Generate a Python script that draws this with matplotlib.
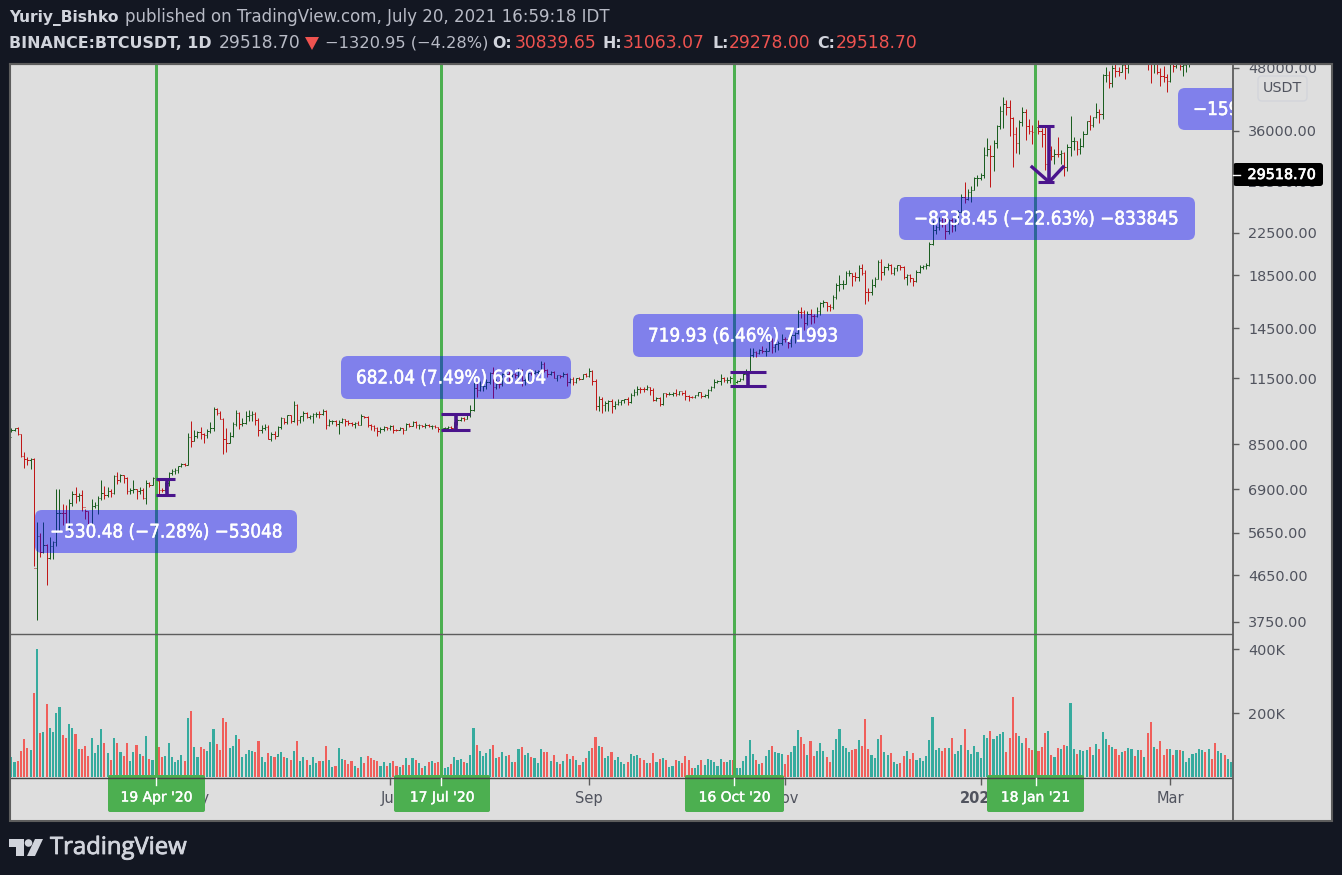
import matplotlib
matplotlib.use('Agg')
import matplotlib.pyplot as plt
import matplotlib.dates as mdates
import matplotlib.patheffects as pe
import pandas as pd
from matplotlib.patches import FancyBboxPatch, Rectangle, Polygon, Circle
from matplotlib.ticker import NullLocator

# daily bars, 5 Mar 2020 .. 20 Mar 2021, prices in USDT
first_day = '2020-03-05'
first_open = 8790

closes = [
    9069, 9158, 8908, 8037, 7931, 7895, 7934, 4800, 5578, 5169, 5343, 5033, 5325, 5414, 6181, 6198, 6186, 5816, 6469, 6744, 6681, 6737, 6359, 6236, 5881, 6394, 6410,
    6642, 6794, 6738, 6862, 6772, 7340, 7197, 7361, 7283, 6858, 6876, 6903, 6837, 6869, 6622, 7100, 7047, 7257, 7187, 6881, 6880, 7117, 7427, 7500, 7538, 7693, 7774, 7738, 8778, 8620,
    8826, 8973, 8894, 8872, 9032, 9149, 9986, 9800, 9539, 8722, 8561, 8810, 9309, 9791, 9316, 9381, 9680, 9733, 9775, 9511, 9067, 9170, 9179, 8720, 8900, 8842, 9204, 9575, 9427, 9697, 9448,
    10200, 9518, 9666, 9789, 9621, 9666, 9746, 9782, 9772, 9885, 9280, 9465, 9474, 9342, 9426, 9526, 9465, 9386, 9310, 9358, 9294, 9685, 9624, 9296, 9249, 9162, 9012, 9116, 9192, 9138,
    9232, 9086, 9058, 9135, 9070, 9345, 9253, 9428, 9277, 9278, 9240, 9276, 9239, 9255, 9197, 9133, 9154, 9170, 9208, 9160, 9390, 9518, 9603, 9537, 9700, 9931, 11029, 10906, 11100, 11100, 11335,
    11801, 11071, 11219, 11191, 11744, 11762, 11594, 11754, 11675, 11878, 11410, 11584, 11780, 11768, 11865, 11892, 12281, 11945, 11754, 11853, 11531, 11662, 11649, 11750, 11318, 11461, 11330, 11526, 11465, 11711, 11649,
    11921, 11388, 10140, 10446, 10166, 10256, 10373, 10126, 10222, 10340, 10392, 10442, 10323, 10680, 10786, 10954, 10939, 10933, 11080, 10920, 10417, 10529, 10241, 10736, 10686, 10728, 10775, 10709, 10844, 10776,
    10619, 10570, 10542, 10666, 10792, 10599, 10666, 10925, 11050, 11296, 11369, 11528, 11426, 11430, 11505, 11322, 11358, 11483, 11742, 11916, 12823, 12965, 12931, 13108, 13031, 13068, 13636, 13266, 13455, 13560, 13791,
    13761, 13549, 14023, 14144, 15590, 15579, 14818, 15475, 15328, 15297, 15701, 16276, 16317, 16069, 15957, 16713, 17659, 17776, 17802, 18655, 18703, 18414, 18368, 19160, 18719, 17154, 17133, 17719, 18185, 19696,
    18764, 19204, 19421, 18650, 19147, 19358, 19166, 18324, 18541, 18254, 18036, 18808, 19175, 19273, 19426, 21335, 22797, 23107, 23821, 23455, 22719, 23810, 23232, 23729, 24712, 26493, 26281, 27079, 27385, 28875, 28923,
    29331, 32178, 33000, 31988, 33949, 36769, 39432, 40582, 40088, 38150, 35404, 34051, 37371, 39145, 36742, 35994, 35828, 36631, 35891, 35468, 30850, 32945, 32078, 32259, 32254, 32467, 30366, 33364, 34252, 34262, 33092,
    33526, 35466, 37618, 36936, 38290, 39186, 38795, 46374, 46420, 44807, 47969, 47287, 47153, 48577, 47911, 49133, 52119, 51552, 55906, 55841, 57408, 54087, 48891, 49676, 47073, 46276, 46106, 45135,
    49587, 48440, 50349, 48374, 48751, 48882, 50971, 52375, 54884, 55851, 57773, 57221, 61188, 59000, 55600, 56900, 58900, 57600, 58100, 58100,
]
highs = [
    9170, 9170, 9190, 8900, 8180, 8000, 7980, 7980, 5950, 5640, 5940, 5370, 5550, 5440, 6900, 6900, 6450, 6410, 6600, 6840, 6980, 6800, 6880, 6300, 6260, 6600, 6520,
    6680, 7200, 7000, 6990, 6900, 7360, 7460, 7420, 7380, 7290, 6950, 7190, 6925, 6990, 6940, 7190, 7150, 7300, 7260, 7240, 6940, 7140, 7470, 7580, 7620, 7700, 7800, 7780, 8950, 9450,
    9060, 9010, 9190, 8950, 9100, 9390, 10070, 10050, 9920, 9570, 9170, 8980, 9400, 9940, 9840, 9590, 9890, 9950, 9900, 9840, 9570, 9270, 9310, 9300, 8980, 9020, 9220, 9620, 9600, 9740, 9700,
    10380, 10230, 9690, 9880, 9860, 9730, 9800, 9850, 9880, 9990, 9950, 9560, 9490, 9490, 9500, 9590, 9540, 9490, 9400, 9400, 9440, 9780, 9690, 9670, 9340, 9290, 9180, 9190, 9240, 9200,
    9290, 9270, 9130, 9190, 9150, 9370, 9380, 9470, 9450, 9320, 9300, 9350, 9340, 9280, 9280, 9210, 9190, 9190, 9240, 9220, 9430, 9540, 9650, 9640, 9730, 10200, 11390, 11270, 11340, 11170, 11450,
    11860, 12120, 11480, 11420, 11790, 11900, 11920, 11810, 11810, 12070, 12000, 11620, 11800, 12000, 11980, 11930, 12470, 12400, 12030, 11880, 11880, 11690, 11710, 11830, 11770, 11530, 11590, 11540, 11580, 11720, 11800,
    12050, 11950, 11450, 10630, 10570, 10350, 10410, 10440, 10350, 10480, 10400, 10480, 10580, 10760, 10940, 11100, 11040, 11040, 11180, 11050, 10990, 10570, 10550, 10770, 10760, 10780, 10800, 10950, 10860, 10800,
    10920, 10670, 10590, 10680, 10800, 10800, 10690, 10960, 11100, 11490, 11430, 11730, 11550, 11560, 11630, 11540, 11410, 11500, 11820, 12030, 13220, 13200, 13030, 13170, 13350, 13250, 13790, 13860, 13650, 13680, 14100,
    13890, 13830, 14070, 14260, 15750, 15970, 15770, 15650, 15830, 15480, 15960, 16350, 16490, 16320, 16180, 16880, 17860, 18480, 18130, 18820, 18970, 18700, 18770, 19420, 19480, 18930, 17460, 18180, 18350, 19860,
    19920, 19310, 19560, 19500, 19180, 19420, 19420, 19300, 18630, 18560, 18290, 18950, 19410, 19350, 19570, 21560, 23800, 23290, 24170, 24300, 24100, 24000, 24100, 24000, 25000, 26870, 28420, 27500, 27850, 29020, 29300,
    29600, 33300, 34780, 33600, 34500, 36940, 40370, 41950, 41380, 41350, 38260, 36630, 37850, 40100, 39750, 37950, 36850, 37300, 37850, 36420, 36850, 33830, 33450, 33070, 34880, 32920, 32560, 33780, 38530, 34930, 34330,
    34720, 35980, 37660, 38700, 38310, 40950, 39700, 46790, 48220, 47310, 48680, 48990, 48150, 49700, 49000, 50650, 52640, 52550, 56370, 57500, 58350, 57530, 54200, 51370, 52050, 47980, 48390, 46700,
    49790, 50250, 52640, 51770, 49300, 49200, 51450, 52450, 54900, 57390, 58150, 58060, 61780, 61680, 60630, 56950, 58980, 60100, 59450, 59900,
]
lows = [
    8990, 9010, 8850, 8000, 7630, 7730, 7590, 4860, 3782, 5055, 5150, 4450, 5000, 5000, 5330, 5660, 5860, 5730, 5690, 6380, 6480, 6530, 6250, 6020, 5860, 5860, 6330,
    6150, 6570, 6600, 6650, 6670, 6770, 7080, 7150, 7110, 6750, 6760, 6780, 6600, 6770, 6600, 6460, 6980, 7030, 7060, 6750, 6810, 6850, 7020, 7390, 7420, 7450, 7640, 7670, 7710, 8400,
    8620, 8750, 8710, 8530, 8760, 8930, 9010, 9710, 9520, 8110, 8190, 8530, 8790, 9250, 9130, 9220, 9340, 9470, 9470, 9300, 8810, 8950, 9090, 8700, 8630, 8700, 8810, 9110, 9330, 9340, 9370,
    9420, 9270, 9370, 9450, 9580, 9530, 9370, 9630, 9570, 9700, 9100, 9230, 9340, 9240, 8900, 9370, 9240, 9280, 9220, 9160, 9270, 9280, 9570, 9200, 9070, 9030, 8830, 8950, 9020, 9070,
    9090, 8940, 9030, 9050, 8900, 9050, 9200, 9230, 9150, 9120, 9190, 9150, 9200, 9120, 9160, 9000, 9070, 9110, 9100, 9130, 9150, 9280, 9460, 9470, 9530, 9650, 9920, 10540, 10860, 10830, 10960,
    11220, 10510, 10950, 11000, 11090, 11580, 11350, 11520, 11520, 11530, 11130, 11150, 11270, 11680, 11760, 11690, 11770, 11820, 11560, 11660, 11500, 11380, 11520, 11600, 11120, 11260, 11160, 11280, 11430, 11460, 11600,
    11570, 11170, 9960, 9880, 9820, 9880, 9880, 9820, 10000, 10200, 10190, 10280, 10200, 10260, 10630, 10670, 10740, 10810, 10890, 10670, 10370, 10350, 10130, 10190, 10560, 10640, 10620, 10630, 10640, 10680,
    10430, 10370, 10490, 10530, 10630, 10530, 10540, 10530, 10830, 11030, 11280, 11180, 11300, 11280, 11260, 11200, 11280, 11340, 11410, 11680, 11900, 12700, 12720, 12880, 12900, 12780, 13050, 12900, 12990, 13130, 13420,
    13620, 13200, 13290, 13530, 14090, 15170, 14340, 14700, 14800, 14830, 15270, 15430, 15960, 15710, 15680, 15850, 16540, 17220, 17340, 17760, 18410, 17610, 18000, 18020, 18500, 16190, 16440, 16880, 17520, 18170,
    18120, 18510, 18900, 18570, 18500, 18860, 18900, 18200, 17650, 17910, 17570, 17900, 18710, 19000, 19050, 19290, 21220, 22350, 22750, 23060, 21810, 22350, 22600, 22700, 23430, 24500, 25800, 26100, 25880, 27320, 27850,
    28620, 28960, 32000, 27730, 29900, 33290, 36300, 36500, 38720, 35110, 30420, 32530, 32380, 36700, 34410, 35360, 33850, 34800, 35370, 33400, 30070, 28850, 31390, 30900, 31910, 30840, 29240, 29840, 31990, 32840, 32170,
    32300, 33420, 35360, 36160, 36570, 38220, 37350, 37990, 45000, 43730, 43990, 46130, 46200, 47040, 45570, 47000, 48950, 50900, 50710, 53860, 55480, 47620, 44890, 47000, 46700, 44100, 45000, 43000,
    45000, 47050, 48100, 47500, 46300, 47070, 48300, 49300, 51840, 53000, 53980, 55510, 56080, 58970, 54600, 53270, 54100, 56100, 56300, 57800,
]
# volume in thousands
volumes = [
    63, 47, 50, 81, 119, 90, 84, 262, 400, 137, 140, 228, 153, 140, 200, 218, 131, 122, 165, 153, 134, 87, 87, 97, 66, 122, 75, 100, 150, 106,
    75, 53, 122, 106, 78, 66, 106, 50, 78, 100, 72, 66, 128, 56, 53, 50, 94, 62, 66, 106, 62, 47, 53, 69, 50, 184, 206, 94, 62, 94,
    87, 81, 109, 150, 103, 84, 184, 172, 90, 97, 131, 119, 62, 72, 84, 81, 78, 112, 62, 47, 75, 66, 62, 72, 78, 62, 59, 53, 81, 112,
    50, 62, 53, 37, 62, 44, 50, 50, 97, 53, 31, 34, 90, 56, 53, 41, 50, 34, 28, 62, 44, 66, 59, 53, 50, 34, 47, 34, 44, 50,
    34, 31, 37, 59, 37, 59, 53, 44, 28, 34, 47, 50, 44, 47, 45, 28, 31,
    42, 63, 54, 57, 48, 45, 70, 154, 101, 82, 67, 76, 88, 101, 60, 63, 79, 67, 70, 48, 48, 88, 95, 70, 76, 63, 60, 45, 88, 79,
    79, 51, 70, 48, 42, 51, 73, 57, 67, 54, 38, 48, 60, 82, 91, 126, 98, 95, 60, 67, 79, 54, 63, 48, 42, 48, 73, 67, 70, 60,
    54, 45, 45, 76, 48, 57, 60, 54, 32, 35, 54, 51, 45, 67, 54, 29, 29, 38, 54, 38, 57, 54, 48, 35, 57, 48, 48, 54, 54, 29,
    29, 51, 67, 116, 73, 54, 42, 45, 67, 85, 98, 79, 76, 73, 42, 70, 79, 98, 148, 126, 104, 70, 113, 67, 82, 107, 82, 63, 48,
    84, 119, 150, 97, 90, 78, 84, 87, 115, 97, 181, 87, 69, 59, 119, 131, 78, 69, 75, 47, 40, 44, 66, 81, 56, 75, 53, 59, 50, 66,
    115, 187, 84, 90, 81, 90, 90, 122, 72, 81, 100, 150, 84, 72, 97, 78, 59, 131, 122, 143, 119, 128, 134, 140, 78, 122, 250, 137, 128, 106,
    122, 90, 84, 75, 81, 94, 137, 143, 69, 62, 90, 87, 100, 97, 231, 87, 72, 84, 81, 84, 94, 69, 103, 87, 140, 119, 100, 94, 87, 69,
    78, 81, 90, 87, 66, 84, 84, 62, 137, 172, 94, 87, 112, 69, 87, 87, 69, 84, 84, 81, 47, 59, 72, 75, 87, 84, 78, 87, 56, 106,
    81, 75, 69, 56, 47,
]

price_ticks = [48000, 36000, 28500, 22500, 18500, 14500, 11500, 8500, 6900, 5650, 4650, 3750]
volume_ticks = [200, 400]
volume_labels = ['200K', '400K']
month_ticks = ['2020-05-01', '2020-07-01', '2020-09-01', '2020-11-01', '2021-01-01', '2021-03-01']
month_labels = ['May', 'Jul', 'Sep', 'Nov', '2021', 'Mar']

# vertical markers and their date tags
marker_dates = ['2020-04-19', '2020-07-17', '2020-10-16', '2021-01-18']
marker_labels = ["19 Apr '20", "17 Jul '20", "16 Oct '20", "18 Jan '21"]

# price range tools: left date, right date, middle date, top, bottom
range_left = ['2020-04-19', '2020-07-17', '2020-10-15', '2021-01-19']
range_right = ['2020-04-25', '2020-07-26', '2020-10-26', '2021-01-24']
range_mid = ['2020-04-22 12:00', '2020-07-21 12:00', '2020-10-20 12:00', '2021-01-22 08:00']
range_top = [7242, 9767, 11846, 36750]
range_bottom = [6725, 9072, 11107, 28400]
arrow_dates = ['2021-01-17 00:00', '2021-01-22 08:00', '2021-01-26 16:00']
arrow_prices = [30430, 28400, 30430]

box_texts = ['\u2212530.48 (\u22127.28%) \u221253048', '682.04 (7.49%) 68204', '719.93 (6.46%) 71993',
             '\u22128338.45 (\u221222.63%) \u2212833845', '\u2212159']

BG = '#131722'
PANEL = '#dedede'
EDGE = '#5d5d5d'
AXTXT = '#50535e'
GREEN = '#4caf50'
PURPLE = '#4a148c'
W, H = 1342, 875
plt.rcParams['font.family'] = ['DejaVu Sans']


def px_rect(x0, y0, x1, y1):
    return [x0 / W, 1 - y1 / H, (x1 - x0) / W, (y1 - y0) / H]


def thicken(txt, color, w=0.35):
    # a bit heavier than regular, the bold face is too wide
    txt.set_path_effects([pe.withStroke(linewidth=w, foreground=color)])


fig = plt.figure(figsize=(W / 100, H / 100), dpi=100, facecolor=BG)

back = fig.add_axes([0, 0, 1, 1], zorder=0)
back.set_xlim(0, W)
back.set_ylim(H, 0)
back.axis('off')
back.add_patch(Rectangle((10, 64), 1322, 756.5, fc=PANEL, ec=EDGE, lw=1.5))

ax = fig.add_axes(px_rect(11, 65, 1232, 634), zorder=1)
vol = fig.add_axes(px_rect(11, 634, 1232, 777), zorder=1)

dates = pd.date_range(first_day, periods=len(closes))
x = mdates.date2num(dates)
opens = [first_open] + closes[:-1]
is_up = [c >= o for c, o in zip(closes, opens)]

bar_colors = ['#1b5e20' if u else '#c01818' for u in is_up]
ax.vlines(x, lows, highs, colors=bar_colors, lw=0.72, snap=True)
ax.hlines(opens, x - 0.45, x, colors=bar_colors, lw=0.72, snap=True)
ax.hlines(closes, x, x + 0.45, colors=bar_colors, lw=0.72, snap=True)

vol_colors = ['#36ab9e' if u else '#f05f5b' for u in is_up]
vol.bar(x, volumes, width=0.66, color=vol_colors, lw=0, antialiased=False)

xmin, xmax = x[0] - 0.1, x[0] + 380.3
for a in (ax, vol):
    a.set_xlim(xmin, xmax)
    a.patch.set_alpha(0)
    for s in a.spines.values():
        s.set_visible(False)
    for d in marker_dates:
        a.axvline(mdates.date2num(pd.Timestamp(d)), color=GREEN, lw=2.16, snap=True)

ax.set_yscale('log')
ax.set_ylim(3547, 48667)
ax.set_yticks(price_ticks)
ax.set_yticklabels([f'{p:.2f}' for p in price_ticks])
ax.yaxis.set_minor_locator(NullLocator())
ax.yaxis.tick_right()
ax.tick_params(axis='y', length=5, width=1, color=EDGE, labelcolor=AXTXT, labelsize=10.4, pad=6.5)
ax.set_xticks([])

vol.set_ylim(0, 447)
vol.set_yticks(volume_ticks)
vol.set_yticklabels(volume_labels)
vol.yaxis.tick_right()
vol.tick_params(axis='y', length=5, width=1, color=EDGE, labelcolor=AXTXT, labelsize=10.4, pad=6.5)
vol.set_xticks(mdates.date2num(pd.to_datetime(month_ticks)))
vol.set_xticklabels(month_labels)
vol.tick_params(axis='x', length=6, width=1, color=EDGE, labelcolor=AXTXT, labelsize=10.5, pad=4)
vol.get_xticklabels()[4].set_fontweight('bold')

# range tools
for i in range(4):
    left = mdates.date2num(pd.Timestamp(range_left[i]))
    right = mdates.date2num(pd.Timestamp(range_right[i]))
    mid = mdates.date2num(pd.Timestamp(range_mid[i]))
    ax.hlines([range_top[i], range_bottom[i]], left, right, colors=PURPLE, lw=2.2, zorder=5)
    ax.vlines(mid, range_bottom[i], range_top[i], colors=PURPLE, lw=2.6, zorder=5)
ax.plot(mdates.date2num(pd.to_datetime(arrow_dates)), arrow_prices, color=PURPLE, lw=2.4, zorder=5)

# everything drawn in picture pixels: frame, header, tags, boxes
ov = fig.add_axes([0, 0, 1, 1], zorder=5)
ov.set_xlim(0, W)
ov.set_ylim(H, 0)
ov.axis('off')

ov.add_patch(Rectangle((0, 0), W, 63.2, fc=BG, ec='none'))
ov.plot([10, 1332], [64, 64], color=EDGE, lw=1.5)
ov.plot([11, 1232], [634, 634], color=EDGE, lw=1)
ov.plot([11, 1232], [777.5, 777.5], color='#444444', lw=1)
ov.plot([1232.5, 1232.5], [65, 820], color=EDGE, lw=1.3)

box_spots = [(35, 510, 297, 553), (341, 356, 571, 399), (633, 314, 863, 357), (899, 197, 1195, 240), (1178, 88, 1290, 130)]
text_x = [50, 356, 648, 914, 1193]
clip = Rectangle((0, 0), 1232, H, transform=ov.transData)
for (x0, y0, x1, y1), label, tx in zip(box_spots, box_texts, text_x):
    b = FancyBboxPatch((x0, y0), x1 - x0, y1 - y0, boxstyle='round,pad=0,rounding_size=7',
                       fc=(0, 0, 1, 0.42), ec='none')
    ov.add_patch(b)
    b.set_clip_path(clip)
    t = ov.text(tx, (y0 + y1) / 2 + 0.5, label, color='white', fontsize=13.5, fontstretch='condensed',
                ha='left', va='center', clip_on=True)
    t.set_clip_path(clip)
    thicken(t, 'white')

tag_spots = [(108, 205), (394, 490), (685, 784), (987, 1084)]
tag_lines = [156, 441, 734, 1036]
for (x0, x1), lx, label in zip(tag_spots, tag_lines, marker_labels):
    ov.add_patch(FancyBboxPatch((x0, 775), x1 - x0, 37, boxstyle='round,pad=0,rounding_size=2', fc=GREEN, ec='none'))
    ov.plot([lx, lx], [778, 785], color='white', lw=1)
    t = ov.text((x0 + x1) / 2, 797.5, label, color='white', fontsize=10, ha='center', va='center')
    thicken(t, 'white', 0.3)

# USDT button and last price tag
ov.add_patch(FancyBboxPatch((1258, 76), 49, 25, boxstyle='round,pad=0,rounding_size=4', fc='none', ec='#d3d5db', lw=1))
ov.text(1282.5, 88.5, 'USDT', color=AXTXT, fontsize=10.3, ha='center', va='center')
ov.add_patch(FancyBboxPatch((1233, 163), 90, 23, boxstyle='round,pad=0,rounding_size=3', fc='black', ec='none'))
ov.plot([1233, 1240], [174.5, 174.5], color='white', lw=1)
t = ov.text(1281.5, 175, '29518.70', color='white', fontsize=10.3, ha='center', va='center')
thicken(t, 'white', 0.5)

# header
LIGHT = '#d1d4dc'
SOFT = '#b8bbc6'
RED = '#ef5350'
ov.text(9, 17.5, 'Yuriy_Bishko', color=LIGHT, fontsize=11.2, fontweight='bold', va='center')
ov.text(125, 17.5, 'published on TradingView.com, July 20, 2021 16:59:18 IDT', color=SOFT, fontsize=12, va='center')
ov.text(9, 43.5, 'BINANCE:BTCUSDT, 1D', color=LIGHT, fontsize=11.4, fontweight='bold', va='center')
ov.text(219, 43.5, '29518.70', color=SOFT, fontsize=12.3, va='center')
ov.add_patch(Polygon([(305, 37), (319, 37), (312, 50)], fc=RED, ec='none'))
ov.text(325, 43.5, '\u22121320.95 (\u22124.28%)', color=SOFT, fontsize=11.7, va='center')
for lab, lab_x, val, val_x in [('O:', 492, '30839.65', 515), ('H:', 603, '31063.07', 623),
                               ('L:', 712, '29278.00', 729), ('C:', 817, '29518.70', 836)]:
    ov.text(lab_x, 43.5, lab, color=LIGHT, fontsize=11.4, fontweight='bold', va='center')
    ov.text(val_x, 43.5, val, color=RED, fontsize=12.3, va='center')

# TradingView logo
ov.add_patch(Polygon([(9, 839), (23.5, 839), (23.5, 856), (16, 856), (16, 847), (9, 847)], fc=LIGHT, ec='none'))
ov.add_patch(Circle((28.5, 843), 3.8, fc=LIGHT, ec='none'))
ov.add_patch(Polygon([(35, 839), (43, 839), (35, 856), (27, 856)], fc=LIGHT, ec='none'))
t = ov.text(50, 848, 'TradingView', color=LIGHT, fontsize=17.2, family='Open Sans', va='center')
thicken(t, LIGHT, 0.6)

fig.savefig('out.png', dpi=100, facecolor=BG)
